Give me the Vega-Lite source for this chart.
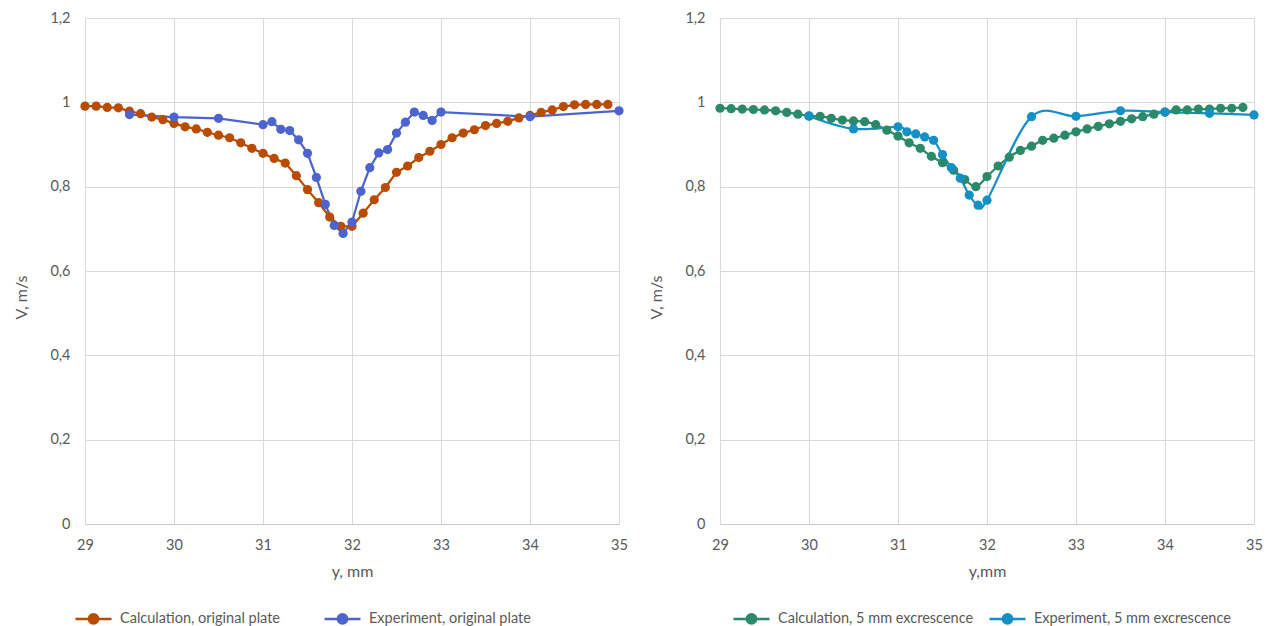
{
  "$schema": "https://vega.github.io/schema/vega-lite/v6.json",
  "padding": {"left": 13, "top": 10, "right": 5, "bottom": 0},
  "spacing": 20,
  "background": "white",
  "datasets": {
    "left": [
      {"y_mm": 29.0, "v": 0.991, "series": "Calculation, original plate"},
      {"y_mm": 29.125, "v": 0.991, "series": "Calculation, original plate"},
      {"y_mm": 29.25, "v": 0.988, "series": "Calculation, original plate"},
      {"y_mm": 29.375, "v": 0.987, "series": "Calculation, original plate"},
      {"y_mm": 29.5, "v": 0.979, "series": "Calculation, original plate"},
      {"y_mm": 29.625, "v": 0.973, "series": "Calculation, original plate"},
      {"y_mm": 29.75, "v": 0.965, "series": "Calculation, original plate"},
      {"y_mm": 29.875, "v": 0.959, "series": "Calculation, original plate"},
      {"y_mm": 30.0, "v": 0.950, "series": "Calculation, original plate"},
      {"y_mm": 30.125, "v": 0.942, "series": "Calculation, original plate"},
      {"y_mm": 30.25, "v": 0.937, "series": "Calculation, original plate"},
      {"y_mm": 30.375, "v": 0.929, "series": "Calculation, original plate"},
      {"y_mm": 30.5, "v": 0.922, "series": "Calculation, original plate"},
      {"y_mm": 30.625, "v": 0.916, "series": "Calculation, original plate"},
      {"y_mm": 30.75, "v": 0.904, "series": "Calculation, original plate"},
      {"y_mm": 30.875, "v": 0.891, "series": "Calculation, original plate"},
      {"y_mm": 31.0, "v": 0.879, "series": "Calculation, original plate"},
      {"y_mm": 31.125, "v": 0.867, "series": "Calculation, original plate"},
      {"y_mm": 31.25, "v": 0.856, "series": "Calculation, original plate"},
      {"y_mm": 31.375, "v": 0.826, "series": "Calculation, original plate"},
      {"y_mm": 31.5, "v": 0.793, "series": "Calculation, original plate"},
      {"y_mm": 31.625, "v": 0.762, "series": "Calculation, original plate"},
      {"y_mm": 31.75, "v": 0.728, "series": "Calculation, original plate"},
      {"y_mm": 31.875, "v": 0.706, "series": "Calculation, original plate"},
      {"y_mm": 32.0, "v": 0.706, "series": "Calculation, original plate"},
      {"y_mm": 32.125, "v": 0.737, "series": "Calculation, original plate"},
      {"y_mm": 32.25, "v": 0.769, "series": "Calculation, original plate"},
      {"y_mm": 32.375, "v": 0.798, "series": "Calculation, original plate"},
      {"y_mm": 32.5, "v": 0.834, "series": "Calculation, original plate"},
      {"y_mm": 32.625, "v": 0.849, "series": "Calculation, original plate"},
      {"y_mm": 32.75, "v": 0.869, "series": "Calculation, original plate"},
      {"y_mm": 32.875, "v": 0.884, "series": "Calculation, original plate"},
      {"y_mm": 33.0, "v": 0.900, "series": "Calculation, original plate"},
      {"y_mm": 33.125, "v": 0.916, "series": "Calculation, original plate"},
      {"y_mm": 33.25, "v": 0.927, "series": "Calculation, original plate"},
      {"y_mm": 33.375, "v": 0.935, "series": "Calculation, original plate"},
      {"y_mm": 33.5, "v": 0.945, "series": "Calculation, original plate"},
      {"y_mm": 33.625, "v": 0.950, "series": "Calculation, original plate"},
      {"y_mm": 33.75, "v": 0.955, "series": "Calculation, original plate"},
      {"y_mm": 33.875, "v": 0.963, "series": "Calculation, original plate"},
      {"y_mm": 34.0, "v": 0.969, "series": "Calculation, original plate"},
      {"y_mm": 34.125, "v": 0.976, "series": "Calculation, original plate"},
      {"y_mm": 34.25, "v": 0.982, "series": "Calculation, original plate"},
      {"y_mm": 34.375, "v": 0.990, "series": "Calculation, original plate"},
      {"y_mm": 34.5, "v": 0.994, "series": "Calculation, original plate"},
      {"y_mm": 34.625, "v": 0.995, "series": "Calculation, original plate"},
      {"y_mm": 34.75, "v": 0.995, "series": "Calculation, original plate"},
      {"y_mm": 34.875, "v": 0.995, "series": "Calculation, original plate"},
      {"y_mm": 29.5, "v": 0.971, "series": "Experiment, original plate"},
      {"y_mm": 30.0, "v": 0.965, "series": "Experiment, original plate"},
      {"y_mm": 30.5, "v": 0.962, "series": "Experiment, original plate"},
      {"y_mm": 31.0, "v": 0.947, "series": "Experiment, original plate"},
      {"y_mm": 31.1, "v": 0.954, "series": "Experiment, original plate"},
      {"y_mm": 31.2, "v": 0.936, "series": "Experiment, original plate"},
      {"y_mm": 31.3, "v": 0.933, "series": "Experiment, original plate"},
      {"y_mm": 31.4, "v": 0.911, "series": "Experiment, original plate"},
      {"y_mm": 31.5, "v": 0.879, "series": "Experiment, original plate"},
      {"y_mm": 31.6, "v": 0.822, "series": "Experiment, original plate"},
      {"y_mm": 31.7, "v": 0.758, "series": "Experiment, original plate"},
      {"y_mm": 31.8, "v": 0.708, "series": "Experiment, original plate"},
      {"y_mm": 31.9, "v": 0.689, "series": "Experiment, original plate"},
      {"y_mm": 32.0, "v": 0.716, "series": "Experiment, original plate"},
      {"y_mm": 32.1, "v": 0.789, "series": "Experiment, original plate"},
      {"y_mm": 32.2, "v": 0.845, "series": "Experiment, original plate"},
      {"y_mm": 32.3, "v": 0.880, "series": "Experiment, original plate"},
      {"y_mm": 32.4, "v": 0.888, "series": "Experiment, original plate"},
      {"y_mm": 32.5, "v": 0.927, "series": "Experiment, original plate"},
      {"y_mm": 32.6, "v": 0.953, "series": "Experiment, original plate"},
      {"y_mm": 32.7, "v": 0.977, "series": "Experiment, original plate"},
      {"y_mm": 32.8, "v": 0.969, "series": "Experiment, original plate"},
      {"y_mm": 32.9, "v": 0.957, "series": "Experiment, original plate"},
      {"y_mm": 33.0, "v": 0.977, "series": "Experiment, original plate"},
      {"y_mm": 34.0, "v": 0.966, "series": "Experiment, original plate"},
      {"y_mm": 35.0, "v": 0.980, "series": "Experiment, original plate"}
    ],
    "right": [
      {"y_mm": 29.0, "v": 0.986, "series": "Calculation, 5 mm excrescence"},
      {"y_mm": 29.125, "v": 0.985, "series": "Calculation, 5 mm excrescence"},
      {"y_mm": 29.25, "v": 0.984, "series": "Calculation, 5 mm excrescence"},
      {"y_mm": 29.375, "v": 0.983, "series": "Calculation, 5 mm excrescence"},
      {"y_mm": 29.5, "v": 0.982, "series": "Calculation, 5 mm excrescence"},
      {"y_mm": 29.625, "v": 0.980, "series": "Calculation, 5 mm excrescence"},
      {"y_mm": 29.75, "v": 0.976, "series": "Calculation, 5 mm excrescence"},
      {"y_mm": 29.875, "v": 0.972, "series": "Calculation, 5 mm excrescence"},
      {"y_mm": 30.0, "v": 0.968, "series": "Calculation, 5 mm excrescence"},
      {"y_mm": 30.125, "v": 0.967, "series": "Calculation, 5 mm excrescence"},
      {"y_mm": 30.25, "v": 0.962, "series": "Calculation, 5 mm excrescence"},
      {"y_mm": 30.375, "v": 0.958, "series": "Calculation, 5 mm excrescence"},
      {"y_mm": 30.5, "v": 0.956, "series": "Calculation, 5 mm excrescence"},
      {"y_mm": 30.625, "v": 0.954, "series": "Calculation, 5 mm excrescence"},
      {"y_mm": 30.75, "v": 0.947, "series": "Calculation, 5 mm excrescence"},
      {"y_mm": 30.875, "v": 0.934, "series": "Calculation, 5 mm excrescence"},
      {"y_mm": 31.0, "v": 0.920, "series": "Calculation, 5 mm excrescence"},
      {"y_mm": 31.125, "v": 0.904, "series": "Calculation, 5 mm excrescence"},
      {"y_mm": 31.25, "v": 0.891, "series": "Calculation, 5 mm excrescence"},
      {"y_mm": 31.375, "v": 0.872, "series": "Calculation, 5 mm excrescence"},
      {"y_mm": 31.5, "v": 0.857, "series": "Calculation, 5 mm excrescence"},
      {"y_mm": 31.625, "v": 0.839, "series": "Calculation, 5 mm excrescence"},
      {"y_mm": 31.75, "v": 0.817, "series": "Calculation, 5 mm excrescence"},
      {"y_mm": 31.875, "v": 0.800, "series": "Calculation, 5 mm excrescence"},
      {"y_mm": 32.0, "v": 0.824, "series": "Calculation, 5 mm excrescence"},
      {"y_mm": 32.125, "v": 0.849, "series": "Calculation, 5 mm excrescence"},
      {"y_mm": 32.25, "v": 0.870, "series": "Calculation, 5 mm excrescence"},
      {"y_mm": 32.375, "v": 0.886, "series": "Calculation, 5 mm excrescence"},
      {"y_mm": 32.5, "v": 0.896, "series": "Calculation, 5 mm excrescence"},
      {"y_mm": 32.625, "v": 0.910, "series": "Calculation, 5 mm excrescence"},
      {"y_mm": 32.75, "v": 0.915, "series": "Calculation, 5 mm excrescence"},
      {"y_mm": 32.875, "v": 0.922, "series": "Calculation, 5 mm excrescence"},
      {"y_mm": 33.0, "v": 0.930, "series": "Calculation, 5 mm excrescence"},
      {"y_mm": 33.125, "v": 0.937, "series": "Calculation, 5 mm excrescence"},
      {"y_mm": 33.25, "v": 0.943, "series": "Calculation, 5 mm excrescence"},
      {"y_mm": 33.375, "v": 0.949, "series": "Calculation, 5 mm excrescence"},
      {"y_mm": 33.5, "v": 0.955, "series": "Calculation, 5 mm excrescence"},
      {"y_mm": 33.625, "v": 0.961, "series": "Calculation, 5 mm excrescence"},
      {"y_mm": 33.75, "v": 0.966, "series": "Calculation, 5 mm excrescence"},
      {"y_mm": 33.875, "v": 0.972, "series": "Calculation, 5 mm excrescence"},
      {"y_mm": 34.0, "v": 0.977, "series": "Calculation, 5 mm excrescence"},
      {"y_mm": 34.125, "v": 0.982, "series": "Calculation, 5 mm excrescence"},
      {"y_mm": 34.25, "v": 0.982, "series": "Calculation, 5 mm excrescence"},
      {"y_mm": 34.375, "v": 0.984, "series": "Calculation, 5 mm excrescence"},
      {"y_mm": 34.5, "v": 0.984, "series": "Calculation, 5 mm excrescence"},
      {"y_mm": 34.625, "v": 0.986, "series": "Calculation, 5 mm excrescence"},
      {"y_mm": 34.75, "v": 0.986, "series": "Calculation, 5 mm excrescence"},
      {"y_mm": 34.875, "v": 0.988, "series": "Calculation, 5 mm excrescence"},
      {"y_mm": 30.0, "v": 0.967, "series": "Experiment, 5 mm excrescence"},
      {"y_mm": 30.5, "v": 0.937, "series": "Experiment, 5 mm excrescence"},
      {"y_mm": 31.0, "v": 0.942, "series": "Experiment, 5 mm excrescence"},
      {"y_mm": 31.1, "v": 0.930, "series": "Experiment, 5 mm excrescence"},
      {"y_mm": 31.2, "v": 0.925, "series": "Experiment, 5 mm excrescence"},
      {"y_mm": 31.3, "v": 0.918, "series": "Experiment, 5 mm excrescence"},
      {"y_mm": 31.4, "v": 0.910, "series": "Experiment, 5 mm excrescence"},
      {"y_mm": 31.5, "v": 0.876, "series": "Experiment, 5 mm excrescence"},
      {"y_mm": 31.6, "v": 0.845, "series": "Experiment, 5 mm excrescence"},
      {"y_mm": 31.7, "v": 0.820, "series": "Experiment, 5 mm excrescence"},
      {"y_mm": 31.8, "v": 0.780, "series": "Experiment, 5 mm excrescence"},
      {"y_mm": 31.9, "v": 0.756, "series": "Experiment, 5 mm excrescence"},
      {"y_mm": 32.0, "v": 0.768, "series": "Experiment, 5 mm excrescence"},
      {"y_mm": 32.5, "v": 0.966, "series": "Experiment, 5 mm excrescence"},
      {"y_mm": 33.0, "v": 0.967, "series": "Experiment, 5 mm excrescence"},
      {"y_mm": 33.5, "v": 0.980, "series": "Experiment, 5 mm excrescence"},
      {"y_mm": 34.0, "v": 0.977, "series": "Experiment, 5 mm excrescence"},
      {"y_mm": 34.5, "v": 0.974, "series": "Experiment, 5 mm excrescence"},
      {"y_mm": 35.0, "v": 0.970, "series": "Experiment, 5 mm excrescence"}
    ]
  },
  "hconcat": [
    {
      "width": 534,
      "height": 506,
      "data": {"name": "left"},
      "mark": {"type": "line", "interpolate": "linear", "strokeWidth": 2.25, "point": {"filled": true, "size": 85}},
      "encoding": {
        "x": {"field": "y_mm", "type": "quantitative", "title": "y, mm",
              "scale": {"domain": [29, 35], "nice": false, "zero": false},
              "axis": {"values": [29, 30, 31, 32, 33, 34, 35]}},
        "y": {"field": "v", "type": "quantitative", "title": "V, m/s",
              "scale": {"domain": [0, 1.2], "nice": false},
              "axis": {"values": [0, 0.2, 0.4, 0.6, 0.8, 1, 1.2]}},
        "color": {"field": "series", "type": "nominal",
                  "scale": {"domain": ["Calculation, original plate", "Experiment, original plate"], "range": ["#BA4B02", "#4D64CF"]},
                  "legend": {"orient": "none", "legendX": -11, "legendY": 581, "direction": "horizontal", "title": null,
                             "columnPadding": 38,
                             "encode": {"symbols": {"update": {
                               "fill": {"signal": "datum.value === 'Calculation, original plate' ? '#BA4B02' : '#4D64CF'"},
                               "stroke": {"signal": "datum.value === 'Calculation, original plate' ? '#BA4B02' : '#4D64CF'"},
                               "strokeWidth": {"value": 2.5}}}}}}
      }
    },
    {
      "width": 534,
      "height": 506,
      "data": {"name": "right"},
      "mark": {"type": "line", "interpolate": "cardinal", "strokeWidth": 2.25, "point": {"filled": true, "size": 85}},
      "encoding": {
        "x": {"field": "y_mm", "type": "quantitative", "title": "y,mm",
              "scale": {"domain": [29, 35], "nice": false, "zero": false},
              "axis": {"values": [29, 30, 31, 32, 33, 34, 35]}},
        "y": {"field": "v", "type": "quantitative", "title": "V, m/s",
              "scale": {"domain": [0, 1.2], "nice": false},
              "axis": {"values": [0, 0.2, 0.4, 0.6, 0.8, 1, 1.2]}},
        "color": {"field": "series", "type": "nominal",
                  "scale": {"domain": ["Calculation, 5 mm excrescence", "Experiment, 5 mm excrescence"], "range": ["#2A8A68", "#1590C4"]},
                  "legend": {"orient": "none", "legendX": 12, "legendY": 581, "direction": "horizontal", "title": null,
                             "columnPadding": 10,
                             "encode": {"symbols": {"update": {
                               "fill": {"signal": "datum.value === 'Calculation, 5 mm excrescence' ? '#2A8A68' : '#1590C4'"},
                               "stroke": {"signal": "datum.value === 'Calculation, 5 mm excrescence' ? '#2A8A68' : '#1590C4'"},
                               "strokeWidth": {"value": 2.5}}}}}}
      }
    }
  ],
  "resolve": {"scale": {"color": "independent", "x": "independent", "y": "independent"}, "legend": {"color": "independent"}},
  "config": {
    "view": {"stroke": null},
    "font": "Lato",
    "axis": {
      "labelFont": "Lato", "labelFontSize": 14.5, "labelColor": "#595959",
      "titleFont": "Lato", "titleFontSize": 16, "titleColor": "#595959", "titleFontWeight": "normal",
      "gridColor": "#D9D9D9", "gridWidth": 1, "ticks": false, "tickSize": 0
    },
    "axisX": {"domain": true, "domainColor": "#C8C8C8", "domainWidth": 1, "labelPadding": 14, "titlePadding": 12, "labelFlush": false},
    "axisY": {"domain": false, "labelPadding": 15, "titlePadding": 20, "titleY": 279,
              "labelExpr": "replace(format(datum.value, '.1~f'), '.', ',')"},
    "legend": {
      "labelFont": "Lato", "labelFontSize": 14.5, "labelColor": "#595959", "labelLimit": 0,
      "labelOffset": 7, "padding": 0,
      "symbolType": "M-1,0H1M-0.26,0A0.26,0.26,0,1,0,0.26,0A0.26,0.26,0,1,0,-0.26,0",
      "symbolSize": 1296, "symbolStrokeWidth": 2.5
    }
  }
}
